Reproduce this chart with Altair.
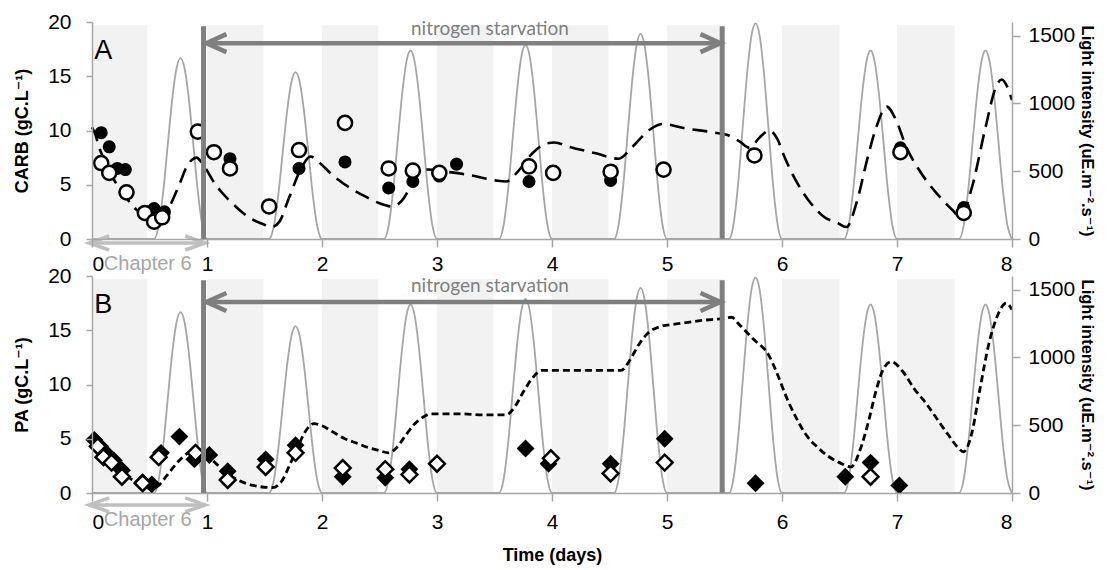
import altair as alt
import pandas as pd

# ---------------- data ----------------
night_start = [0, 1, 2, 3, 4, 5, 6, 7]
night_end = [0.48, 1.49, 2.49, 3.49, 4.49, 5.49, 6.5, 7.5]

light_day = [0, 1, 2, 3, 4, 5, 6, 7]
light_offsets = [0.54, 0.58, 0.62, 0.66, 0.70, 0.735, 0.77, 0.805, 0.84, 0.88, 0.92, 0.96, 1.0]
light_rows = [
    [0, 97, 354, 707, 1049, 1259, 1334, 1259, 1049, 707, 354, 97, 0],
    [0, 90, 326, 652, 967, 1161, 1230, 1161, 967, 652, 326, 90, 0],
    [0, 101, 368, 737, 1093, 1312, 1390, 1312, 1093, 737, 368, 101, 0],
    [0, 105, 379, 759, 1126, 1352, 1432, 1352, 1126, 759, 379, 105, 0],
    [0, 110, 401, 801, 1188, 1427, 1512, 1427, 1188, 801, 401, 110, 0],
    [0, 116, 421, 843, 1250, 1501, 1590, 1501, 1250, 843, 421, 116, 0],
    [0, 101, 368, 737, 1093, 1312, 1390, 1312, 1093, 737, 368, 101, 0],
    [0, 101, 368, 737, 1093, 1312, 1390, 1312, 1093, 737, 368, 101, 0],
]

carb_model_t = [0.00, 0.03, 0.06, 0.12, 0.20, 0.27, 0.34, 0.41, 0.48, 0.55, 0.62, 0.67, 0.71, 0.77,
                0.82, 0.87, 0.91, 0.95, 1.00, 1.05, 1.12, 1.19, 1.28, 1.35, 1.48, 1.56, 1.63, 1.71,
                1.81, 1.90, 1.97, 2.09, 2.23, 2.38, 2.50, 2.61, 2.70, 2.78, 2.84, 2.92, 3.08, 3.28,
                3.51, 3.60, 3.71, 3.83, 3.95, 4.02, 4.15, 4.38, 4.58, 4.70, 4.84, 4.96, 5.16, 5.42,
                5.52, 5.63, 5.72, 5.80, 5.89, 5.96, 6.02, 6.10, 6.17, 6.25, 6.37, 6.48, 6.56, 6.65,
                6.74, 6.82, 6.91, 6.99, 7.08, 7.19, 7.37, 7.48, 7.55, 7.65, 7.77, 7.86, 7.91, 7.96, 8.00]
carb_model_v = [10.3, 9.6, 8.5, 7.0, 5.3, 4.3, 3.2, 2.5, 2.1, 1.9, 2.3, 2.9, 3.8, 5.3,
                6.6, 7.3, 7.5, 7.1, 6.3, 5.4, 4.4, 3.6, 2.7, 2.1, 1.4, 1.1, 1.6, 3.7,
                6.3, 7.6, 7.1, 5.9, 4.8, 3.9, 3.3, 3.0, 3.6, 5.0, 6.0, 6.4, 6.2, 5.9,
                5.4, 5.3, 6.3, 7.9, 8.8, 8.9, 8.5, 7.9, 7.4, 8.5, 10.0, 10.6, 10.2, 9.8,
                9.6, 9.0, 8.4, 9.3, 10.0, 9.2, 7.6, 5.8, 4.5, 3.3, 2.0, 1.5, 1.1, 3.4,
                7.3, 10.3, 12.2, 11.0, 8.5, 6.4, 3.9, 2.7, 2.0, 4.7, 10.3, 14.0, 14.7, 14.0, 12.8]

carb_filled_t = [0.08, 0.15, 0.22, 0.29, 0.54, 0.63, 0.92, 1.20, 1.80, 2.20, 2.58, 2.79, 3.02,
                 3.17, 3.80, 4.51, 7.03, 7.58]
carb_filled_v = [9.8, 8.5, 6.5, 6.4, 2.8, 2.5, 10.0, 7.4, 6.5, 7.1, 4.7, 5.3, 5.8,
                 6.9, 5.3, 5.4, 8.4, 2.9]
carb_open_t = [0.08, 0.15, 0.30, 0.46, 0.54, 0.61, 0.92, 1.06, 1.20, 1.54, 1.80, 2.20, 2.58,
               2.79, 3.02, 3.80, 4.01, 4.51, 4.97, 5.76, 7.03, 7.58]
carb_open_v = [7.0, 6.1, 4.3, 2.4, 1.6, 2.0, 9.9, 8.0, 6.5, 3.0, 8.2, 10.7, 6.5,
               6.3, 6.1, 6.7, 6.1, 6.2, 6.4, 7.7, 8.0, 2.4]

pa_model_t = [0.00, 0.10, 0.20, 0.30, 0.40, 0.52, 0.58, 0.65, 0.75, 0.85, 0.91, 0.97, 1.05, 1.15,
              1.25, 1.40, 1.57, 1.65, 1.72, 1.80, 1.87, 1.93, 2.00, 2.10, 2.20, 2.30, 2.40, 2.50,
              2.58, 2.65, 2.72, 2.80, 2.88, 2.95, 3.20, 3.40, 3.60, 3.68, 3.75, 3.83, 3.91, 4.20,
              4.40, 4.60, 4.68, 4.75, 4.83, 4.93, 5.10, 5.30, 5.50, 5.56, 5.63, 5.75, 5.89, 5.95,
              6.06, 6.13, 6.20, 6.30, 6.40, 6.50, 6.60, 6.68, 6.75, 6.82, 6.88, 6.95, 7.05, 7.15,
              7.25, 7.35, 7.45, 7.52, 7.58, 7.65, 7.72, 7.80, 7.88, 7.95, 8.00]
pa_model_v = [5.5, 3.9, 2.6, 1.6, 0.9, 0.4, 0.7, 1.6, 2.9, 3.8, 4.0, 3.7, 3.0, 2.0,
              1.3, 0.7, 0.5, 1.1, 2.6, 4.5, 5.9, 6.4, 6.2, 5.6, 5.0, 4.6, 4.2, 3.9,
              3.7, 4.2, 5.2, 6.3, 7.0, 7.3, 7.3, 7.2, 7.2, 8.0, 9.3, 10.6, 11.3, 11.3,
              11.3, 11.3, 12.3, 13.6, 14.7, 15.3, 15.6, 15.9, 16.1, 16.2, 15.5, 14.2, 12.6, 11.2,
              8.3, 6.8, 5.5, 4.3, 3.4, 2.8, 2.4, 4.0, 6.5, 9.5, 11.4, 12.1, 11.2, 9.6,
              8.3, 6.8, 5.3, 4.3, 3.8, 5.5, 9.5, 13.8, 16.5, 17.5, 16.9]

pa_filled_t = [0.02, 0.07, 0.11, 0.19, 0.26, 0.44, 0.52, 0.60, 0.76, 0.89, 1.02, 1.18, 1.51,
               1.77, 2.18, 2.55, 2.76, 3.77, 3.97, 4.51, 4.98, 5.77, 6.55, 6.77, 7.02]
pa_filled_v = [4.9, 4.3, 3.8, 3.0, 2.1, 1.0, 0.8, 3.7, 5.2, 3.1, 3.5, 2.0, 3.1,
               4.4, 1.5, 1.4, 2.2, 4.1, 2.7, 2.7, 5.0, 0.9, 1.5, 2.8, 0.7]
pa_open_t = [0.05, 0.10, 0.17, 0.26, 0.44, 0.58, 0.90, 1.18, 1.51, 1.77, 2.18, 2.55, 2.76,
             3.00, 3.99, 4.51, 4.98, 6.77]
pa_open_v = [4.3, 3.3, 2.8, 1.5, 0.9, 3.3, 3.7, 1.2, 2.4, 3.7, 2.3, 2.2, 1.7,
             2.7, 3.2, 1.8, 2.8, 1.5]

x_ticks = [0, 1, 2, 3, 4, 5, 6, 7, 8]
left_ticks = [0, 5, 10, 15, 20]
light_ticks = [0, 500, 1000, 1500]

# ---------------- tables ----------------
light_t = [0.0]
light_v = [0]
for d, row in zip(light_day, light_rows):
    for off, val in zip(light_offsets, row):
        light_t.append(d + off)
        light_v.append(val)
df_light = pd.DataFrame({"t": light_t, "v": light_v})

BAND_TOP = 19.7
df_night = pd.DataFrame({"s": night_start, "e": night_end,
                         "y0": [0] * len(night_start), "y1": [BAND_TOP] * len(night_start)})

FONT = "Liberation Sans, Arial, DejaVu Sans"
GRAY_AX = "#a6a6a6"
ARROW = "#7f7f7f"
CHAP = "#bfbfbf"


def ys():
    return alt.Scale(domain=[0, 20], nice=False, zero=False)


def build(model_t, model_v, dash, dash_w, f_t, f_v, o_t, o_v, shape, ytitle, letter,
          x_label_pad, x_title, n_arrow_y, n_text_y, chap_arrow_y, chap_text_y,
          f_size, o_size):
    if x_title:
        x_axis = alt.Axis(values=x_ticks, tickSize=8, labelPadding=x_label_pad,
                          title=x_title, titlePadding=14, format="d", zindex=1)
    else:
        x_axis = alt.Axis(values=x_ticks, tickSize=8, labelPadding=x_label_pad,
                          title="", format="d", zindex=1)

    def XN(f):
        # identical x axis definition on every layer so the shared axis merges cleanly
        return alt.X(f, type="quantitative",
                     scale=alt.Scale(domain=[0, 8], nice=False, zero=False), axis=x_axis)

    def YN(f):
        return alt.Y(f, type="quantitative", scale=ys(), axis=None)

    y_axis = alt.Axis(values=left_ticks, tickSize=6, labelPadding=15, title=ytitle,
                      titlePadding=16, orient="left", format="d", zindex=1)

    bands = alt.Chart(df_night).mark_rect(color="#f2f2f2").encode(
        x=XN("s"),
        x2="e:Q",
        y=alt.Y("y0:Q", scale=ys(), axis=y_axis),
        y2="y1:Q",
    )

    light = alt.Chart(df_light).mark_line(
        color="#a6a6a6", strokeWidth=1.8, interpolate="monotone"
    ).encode(
        x=XN("t"),
        y=alt.Y("v:Q", scale=alt.Scale(domain=[0, 1600], nice=False), axis=alt.Axis(
            values=light_ticks, orient="right", tickSize=8, labelPadding=8, format="d",
            title="Light intensity (uE.m⁻².s⁻¹)", titlePadding=4, titleFontSize=16.5,
            zindex=1)),
    )

    df_model = pd.DataFrame({"t": model_t, "v": model_v})
    model = alt.Chart(df_model).mark_line(
        color="black", strokeWidth=dash_w, strokeDash=dash, interpolate="monotone"
    ).encode(x=XN("t"), y=YN("v"))

    df_f = pd.DataFrame({"t": f_t, "v": f_v})
    df_o = pd.DataFrame({"t": o_t, "v": o_v})
    filled = alt.Chart(df_f).mark_point(
        shape=shape, filled=True, color="black", size=f_size, opacity=1
    ).encode(x=XN("t"), y=YN("v"))
    opened = alt.Chart(df_o).mark_point(
        shape=shape, filled=True, fill="white", stroke="black", strokeWidth=2.5,
        size=o_size, opacity=1, fillOpacity=1
    ).encode(x=XN("t"), y=YN("v"))

    df_vr = pd.DataFrame({"x": [0.97, 5.48], "y0": [0, 0], "y1": [19.6, 19.6]})
    vrules = alt.Chart(df_vr).mark_rule(color=ARROW, strokeWidth=5).encode(
        x=XN("x"), y=YN("y0"), y2="y1:Q")

    # nitrogen starvation arrow
    df_na = pd.DataFrame({"x0": [1.0], "x1": [5.46], "y": [n_arrow_y]})
    n_line = alt.Chart(df_na).mark_rule(color=ARROW, strokeWidth=4.5).encode(
        x=XN("x0"), x2="x1:Q", y=YN("y"))
    df_nl = pd.DataFrame({"x": [0.995], "y": [n_arrow_y]})
    df_nr = pd.DataFrame({"x": [5.465], "y": [n_arrow_y]})
    n_left = alt.Chart(df_nl).mark_point(
        shape="M1,-0.45L0,0L1,0.45", filled=False, stroke=ARROW, strokeWidth=4.5,
        size=1600, opacity=1
    ).encode(x=XN("x"), y=YN("y"))
    n_right = alt.Chart(df_nr).mark_point(
        shape="M-1,-0.45L0,0L-1,0.45", filled=False, stroke=ARROW, strokeWidth=4.5,
        size=1600, opacity=1
    ).encode(x=XN("x"), y=YN("y"))
    df_nt = pd.DataFrame({"x": [3.46], "y": [n_text_y], "s": ["nitrogen starvation"]})
    n_text = alt.Chart(df_nt).mark_text(
        font="Lato, Open Sans", fontSize=19, color=ARROW, baseline="alphabetic", align="center"
    ).encode(x=XN("x"), y=YN("y"), text="s:N")

    # Chapter 6 arrow
    df_ca = pd.DataFrame({"x0": [-0.02], "x1": [0.98], "y": [chap_arrow_y]})
    c_line = alt.Chart(df_ca).mark_rule(color=CHAP, strokeWidth=3.5).encode(
        x=XN("x0"), x2="x1:Q", y=YN("y"))
    df_cl = pd.DataFrame({"x": [-0.025], "y": [chap_arrow_y]})
    df_cr = pd.DataFrame({"x": [0.985], "y": [chap_arrow_y]})
    c_left = alt.Chart(df_cl).mark_point(
        shape="M1,-0.35L0,0L1,0.35", filled=False, stroke=CHAP, strokeWidth=3.5,
        size=1600, opacity=1
    ).encode(x=XN("x"), y=YN("y"))
    c_right = alt.Chart(df_cr).mark_point(
        shape="M-1,-0.35L0,0L-1,0.35", filled=False, stroke=CHAP, strokeWidth=3.5,
        size=1600, opacity=1
    ).encode(x=XN("x"), y=YN("y"))
    df_ct = pd.DataFrame({"x": [0.485], "y": [chap_text_y], "s": ["Chapter 6"]})
    c_text = alt.Chart(df_ct).mark_text(
        font=FONT, fontSize=20, color="#a6a6a6", baseline="middle", align="center"
    ).encode(x=XN("x"), y=YN("y"), text="s:N")

    df_lt = pd.DataFrame({"x": [0.02], "y": [16.6], "s": [letter]})
    l_text = alt.Chart(df_lt).mark_text(
        font=FONT, fontSize=27, color="black", baseline="alphabetic", align="left"
    ).encode(x=XN("x"), y=YN("y"), text="s:N")

    return alt.layer(
        bands, light, model, filled, opened, vrules, n_line, n_left, n_right, n_text,
        c_line, c_left, c_right, c_text, l_text
    ).resolve_scale(y="independent").properties(width=920, height=217)


panel_a = build(carb_model_t, carb_model_v, [15, 8], 2.6, carb_filled_t, carb_filled_v,
                carb_open_t, carb_open_v, "circle", "CARB  (gC.L⁻¹)", "A",
                6, None, 18.05, 18.8, -0.37, -2.3, 170, 200)
panel_b = build(pa_model_t, pa_model_v, [7, 4], 2.8, pa_filled_t, pa_filled_v,
                pa_open_t, pa_open_v, "diamond", "PA (gC.L⁻¹)", "B",
                10, "Time (days)", 17.6, 18.5, -1.1, -2.5, 320, 250)

chart = alt.vconcat(panel_a, panel_b, spacing=37, bounds="flush").properties(
    padding={"left": 5, "top": 3, "right": 2, "bottom": 4}
).configure_view(stroke=None).configure_axis(
    grid=False,
    labelFont=FONT, labelFontSize=21, labelColor="black",
    titleFont=FONT, titleFontSize=18, titleFontWeight="bold", titleColor="black",
    domainColor=GRAY_AX, tickColor=GRAY_AX, domainWidth=1.5, tickWidth=1.5,
)

chart.save("out.html", embed_options={"renderer": "svg", "actions": False})
